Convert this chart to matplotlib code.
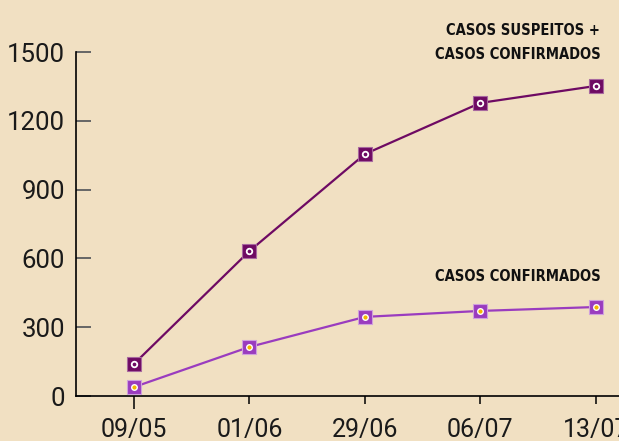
import matplotlib
matplotlib.use("Agg")
import matplotlib.pyplot as plt
from matplotlib import font_manager

dates = ["09/05", "01/06", "29/06", "06/07", "13/07"]
suspeitos_confirmados = [140, 632, 1055, 1278, 1352]
confirmados = [39, 214, 345, 371, 388]
yticks = [0, 300, 600, 900, 1200, 1500]

bg = "#f1e0c2"
dark = "#6e0a63"
light = "#9a3cbf"

# pick the narrowest bold face we have for the series labels
names = {f.name for f in font_manager.fontManager.ttflist}
if "Liberation Sans Narrow" in names:
    label_font = dict(family="Liberation Sans Narrow", fontweight="bold")
else:
    label_font = dict(family="DejaVu Sans", fontweight="bold", fontstretch="condensed")
tick_font = "Roboto" if "Roboto" in names else "DejaVu Sans"

fig = plt.figure(figsize=(6.19, 4.41), dpi=100, facecolor=bg)
ax = fig.add_axes([76 / 619, 1 - 396 / 441, 1 - 76 / 619, (396 - 52) / 441])
ax.set_facecolor(bg)

x = list(range(len(dates)))
ax.plot(x, suspeitos_confirmados, color=dark, lw=1.6, marker="s", ms=9.5,
        mfc=dark, mec="#a8689f", mew=0.8, zorder=3, clip_on=False)
ax.plot(x, suspeitos_confirmados, ls="none", marker="o", ms=4,
        mfc=dark, mec="white", mew=1.3, zorder=4, clip_on=False)
ax.plot(x, confirmados, color=light, lw=1.6, marker="s", ms=9.5,
        mfc=light, mec="#cfa0dd", mew=0.8, zorder=3, clip_on=False)
ax.plot(x, confirmados, ls="none", marker="o", ms=4,
        mfc="#f5b800", mec="white", mew=1.0, zorder=4, clip_on=False)

ax.set_xlim(-0.502, 4.2)
ax.set_ylim(0, 1500)
ax.set_xticks(x)
ax.set_xticklabels(dates)
ax.set_yticks(yticks)

for s in ["top", "right"]:
    ax.spines[s].set_visible(False)
for s in ["left", "bottom"]:
    ax.spines[s].set_color("black")
    ax.spines[s].set_linewidth(1.2)

ax.tick_params(axis="y", direction="in", length=11, width=1.4, color="#666",
               labelsize=18.5, pad=8)
ax.tick_params(axis="x", direction="out", length=6, width=1.1, color="black",
               labelsize=18, pad=10)
ax.xaxis.get_major_ticks()[0].tick1line.set_color("#666")
ax.xaxis.get_major_ticks()[0].tick1line.set_markersize(9)
for lab in ax.get_xticklabels() + ax.get_yticklabels():
    lab.set_color("#1a1a1a")
    lab.set_family(tick_font)

t1a = ax.text(600 / 619, 1 - 35 / 441, "CASOS SUSPEITOS +",
              transform=fig.transFigure, ha="right", va="baseline",
              color="#111", **label_font)
t1b = ax.text(601 / 619, 1 - 59 / 441, "CASOS CONFIRMADOS",
              transform=fig.transFigure, ha="right", va="baseline",
              color="#111", **label_font)
t2 = ax.text(601 / 619, 1 - 281 / 441, "CASOS CONFIRMADOS",
             transform=fig.transFigure, ha="right", va="baseline",
             color="#111", **label_font)

# size the series labels so that "CASOS CONFIRMADOS" is ~165 px wide
r = fig.canvas.get_renderer()
t2.set_fontsize(12)
size = 12 * 165 / t2.get_window_extent(r).width
for t in (t1a, t1b, t2):
    t.set_fontsize(size)

fig.savefig("out.png", dpi=100, facecolor=bg)
